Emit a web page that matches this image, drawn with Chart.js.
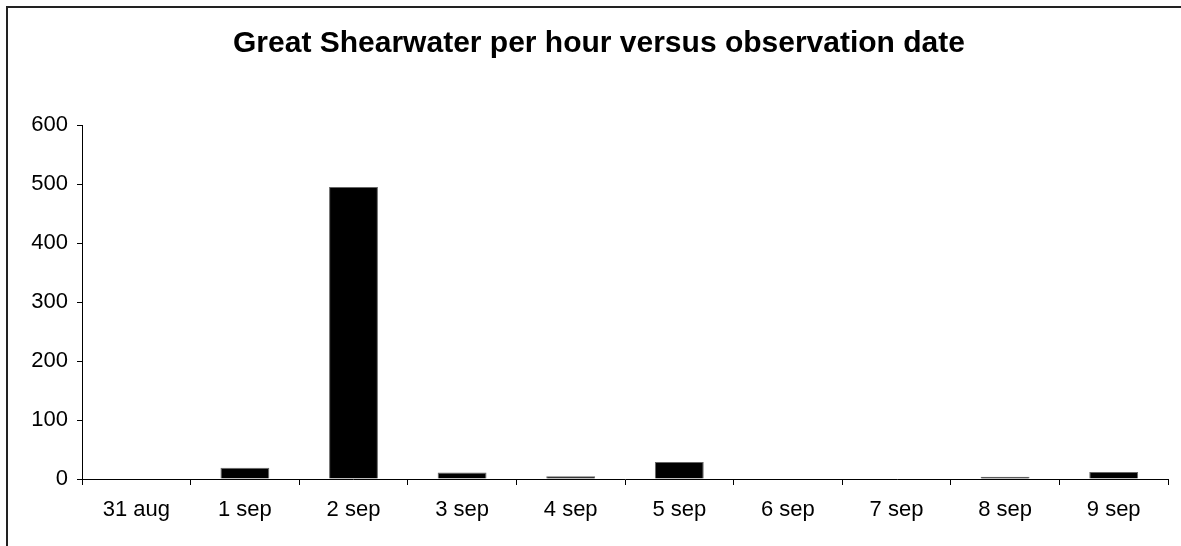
<!DOCTYPE html>
<html>
<head>
<meta charset="utf-8">
<script src="https://cdn.jsdelivr.net/npm/chart.js@4"></script>
<style>
  html, body { margin: 0; padding: 0; background: #fff; }
  #wrap { width: 1181px; height: 546px; }
</style>
</head>
<body>
<div id="wrap"><canvas id="barChart"></canvas></div>
<script>
const dates = ['31 aug', '1 sep', '2 sep', '3 sep', '4 sep', '5 sep', '6 sep', '7 sep', '8 sep', '9 sep'];
const perHour = [0, 19, 495, 11, 4.5, 29, 0, 0, 4, 12];
const yTicks = [0, 100, 200, 300, 400, 500, 600];

// frame around the whole chart like the spreadsheet export
const framePlugin = {
    id: 'frame',
    beforeDraw(chart) {
        const c = chart.ctx;
        c.save();
        c.fillStyle = '#fff';
        c.fillRect(0, 0, chart.width, chart.height);
        c.strokeStyle = '#222';
        c.lineWidth = 2;
        c.strokeRect(7, 7, chart.width + 10, chart.height + 10);
        c.restore();
    }
};

const ctx = document.getElementById('barChart');

new Chart(ctx, {
    type: 'bar',
    data: {
        labels: dates,
        datasets: [{
            label: 'Great Shearwater per hour',
            data: perHour,
            backgroundColor: '#000',
            borderColor: '#666',
            borderWidth: 1,
            categoryPercentage: 1,
            barPercentage: 0.45
        }]
    },
    options: {
        responsive: true,
        maintainAspectRatio: false,
        animation: false,
        layout: { padding: { left: 17, right: 0, top: 0, bottom: 0 } },
        plugins: {
            legend: { display: false },
            tooltip: { enabled: false },
            title: {
                display: true,
                text: 'Great Shearwater per hour versus observation date',
                color: '#000',
                font: { family: 'Arial, "Liberation Sans", sans-serif', size: 30, weight: 'bold' },
                padding: { top: 26, bottom: 63 }
            }
        },
        scales: {
            x: {
                grid: { drawOnChartArea: false, color: '#000', tickLength: 6, offset: true },
                border: { color: '#000', width: 1 },
                ticks: {
                    color: '#000',
                    padding: 12,
                    maxRotation: 0,
                    font: { family: 'Arial, "Liberation Sans", sans-serif', size: 22 }
                },
                afterFit(scale) {
                    scale.height = 67;
                    scale.paddingRight = 13; // keep plot short of the right edge, title stays centred on full width
                }
            },
            y: {
                min: 0,
                max: 600,
                afterBuildTicks(scale) { scale.ticks = yTicks.map(v => ({ value: v })); },
                grid: { drawOnChartArea: false, color: '#000', tickLength: 5 },
                border: { color: '#000', width: 1 },
                ticks: {
                    color: '#000',
                    padding: 9,
                    font: { family: 'Arial, "Liberation Sans", sans-serif', size: 22 }
                },
                afterFit(scale) { scale.width = 65; }
            }
        }
    },
    plugins: [framePlugin]
});
</script>
</body>
</html>
